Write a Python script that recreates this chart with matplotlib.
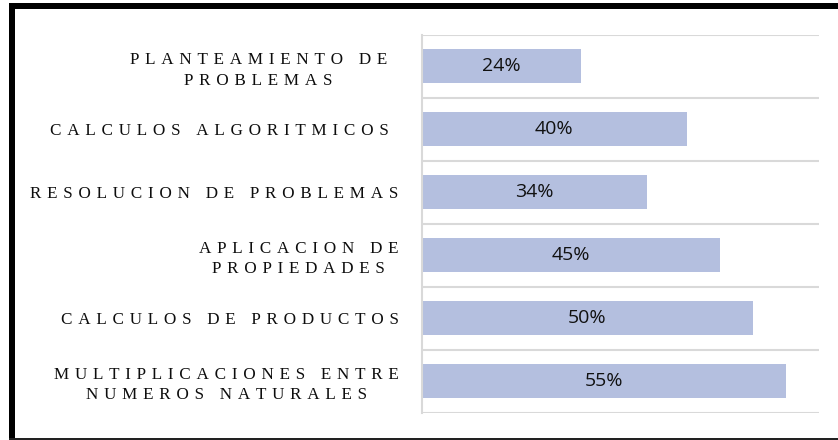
import matplotlib
matplotlib.use("Agg")
import matplotlib.pyplot as plt
from matplotlib.patches import Rectangle
import numpy as np

categories = [
    "PLANTEAMIENTO DE\u2004\nPROBLEMAS\u2004",
    "CALCULOS ALGORITMICOS ",
    "RESOLUCION DE PROBLEMAS",
    "APLICACION DE\nPROPIEDADES",
    "CALCULOS DE PRODUCTOS",
    "MULTIPLICACIONES ENTRE\nNUMEROS NATURALES",
]
values = [0.24, 0.40, 0.34, 0.45, 0.50, 0.55]
value_labels = ["24%", "40%", "34%", "45%", "50%", "55%"]

bar_color = "#B4BFDF"
grid_color = "#D9D9D9"


def spaced(label):
    # wide letter spacing like the original
    return "\n".join("\u2004".join(line) for line in label.split("\n"))


W, H = 838, 440
fig = plt.figure(figsize=(W / 100, H / 100), dpi=100)
ax = fig.add_axes([422 / W, 1 - 412.5 / H, 397 / W, (412.5 - 35) / H])

y = np.arange(len(categories))
bars = ax.barh(y, values, height=0.54, color=bar_color, edgecolor="none", zorder=2)

for b, lab in zip(bars, value_labels):
    ax.text(b.get_x() + b.get_width() / 2, b.get_y() + b.get_height() / 2, lab,
            ha="center", va="center", fontsize=14, family="Open Sans",
            color="#111111", zorder=3)

ax.set_xlim(0, 0.6)
ax.set_ylim(len(categories) - 0.5, -0.5)
ax.set_xticks([])
ax.set_yticks(y)
ax.set_yticklabels([spaced(c) for c in categories], multialignment="center",
                   linespacing=1.35, color="#0d0d0d",
                   family=["Liberation Serif", "DejaVu Serif"], fontsize=12.3)
ax.tick_params(axis="y", length=0, pad=17)

# category separators
for b in np.arange(-0.5, len(categories), 1.0):
    ax.axhline(b, color=grid_color, linewidth=1.5, zorder=1)

for s in ["top", "right", "bottom"]:
    ax.spines[s].set_visible(False)
ax.spines["left"].set_color(grid_color)
ax.spines["left"].set_linewidth(1.5)

# black frame around the picture
fig.add_artist(Rectangle((9 / W, 1 - 9 / H), 1 - 9 / W, 6 / H, transform=fig.transFigure,
                         color="black", lw=0))
fig.add_artist(Rectangle((9 / W, 1 - 439.5 / H), 6 / W, (439.5 - 3) / H,
                         transform=fig.transFigure, color="black", lw=0))
fig.add_artist(Rectangle((9 / W, 1 - 439.5 / H), 1 - 9 / W, 2 / H, transform=fig.transFigure,
                         color="#222222", lw=0))

fig.savefig("out.png", dpi=100)
